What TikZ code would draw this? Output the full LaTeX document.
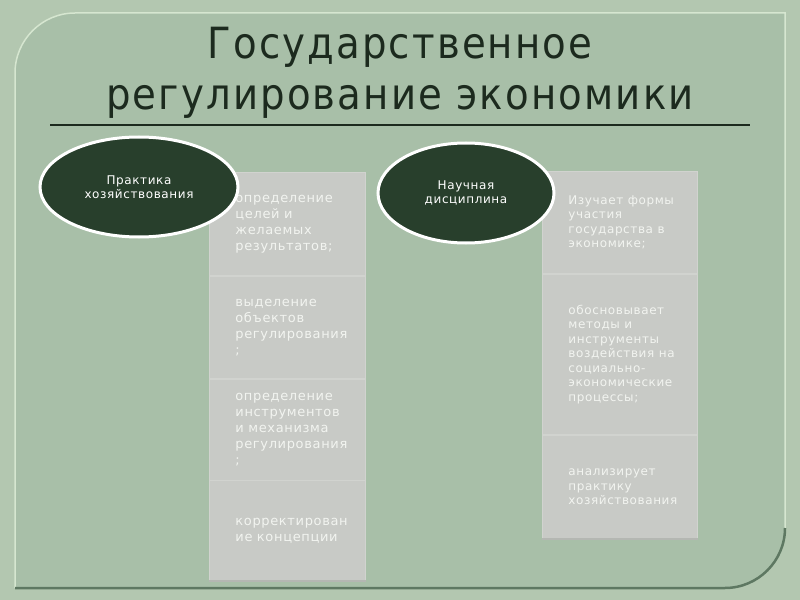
\documentclass[tikz,border=0pt]{standalone}
\usepackage{fontspec}
\setmainfont{DejaVu Sans}
\newfontfamily\titlefont{DejaVu Sans Condensed}[LetterSpace=5]
\newfontfamily\spacedfont{DejaVu Sans}[LetterSpace=5]
\usetikzlibrary{positioning,shapes.geometric}

\definecolor{outergreen}{HTML}{B3C7B0}
\definecolor{panelgreen}{HTML}{A8BFA8}
\definecolor{panelrim}{HTML}{D6E6D0}
\definecolor{panelshade}{HTML}{5E7862}
\definecolor{titleink}{HTML}{1C2A1E}
\definecolor{ovalgreen}{HTML}{283F2C}
\definecolor{cellgray}{HTML}{C8CAC6}
\definecolor{cellline}{HTML}{D1D3CF}
\definecolor{cellshade}{HTML}{B4B7B2}
\definecolor{cellink}{HTML}{F2F4F0}

\tikzset{
  oval/.style={ellipse, draw=white, line width=3bp, fill=ovalgreen, text=white,
    minimum width=198bp, minimum height=100bp, inner sep=0pt, align=center,
    font=\spacedfont\fontsize{12bp}{14.5bp}\selectfont},
  cell/.style={rectangle, fill=cellgray, draw=cellline, line width=0.8bp,
    inner sep=0pt, text=cellink, align=flush left,
    execute at begin node={\spaceskip=4.5bp plus 0bp minus 0bp\relax}},
  practcell/.style={cell, minimum width=156bp, text width=104bp,
    font=\spacedfont\fontsize{13bp}{16bp}\selectfont},
  scicell/.style={cell, minimum width=155bp, text width=103bp,
    font=\spacedfont\fontsize{12bp}{14.5bp}\selectfont}
}

\begin{document}
\begin{tikzpicture}[x=1bp, y=-1bp]
    \useasboundingbox (0,0) rectangle (800,600);
    \fill[outergreen] (0,0) rectangle (800,600);

    % panel with two rounded corners
    \fill[panelgreen] (15,588) -- (15,73) .. controls (15,40) and (42,13) .. (75,13)
        -- (785,13) -- (785,528) .. controls (785,561) and (758,588) .. (725,588) -- cycle;
    \draw[panelrim, line width=1.5bp] (15,588) -- (15,73) .. controls (15,40) and (42,13) .. (75,13)
        -- (785,13) -- (785,528);
    \draw[panelshade, line width=2.5bp] (785,528) .. controls (785,561) and (758,588) .. (725,588) -- (15,588);

    \node[text=titleink, align=center, font=\titlefont\fontsize{43bp}{50.5bp}\selectfont] (title) at (400,73)
        {Государственное\\регулирование экономики};
    \coordinate (ruleL) at (50,125);
    \coordinate (ruleR) at (750,125);
    \draw[titleink, line width=2bp] (ruleL) -- (ruleR);

    % left column
    \node[practcell, minimum height=103bp, anchor=north west] (goals) at (209,172)
        {определение\\целей~и\\желаемых\\результатов;};
    \node[practcell, minimum height=102bp, below=0pt of goals] (objects)
        {выделение\\объектов\\регулирования\\;};
    \node[practcell, minimum height=101bp, below=0pt of objects] (tools)
        {определение\\инструментов\\и~механизма\\регулирования\\;};
    \node[practcell, minimum height=100bp, below=0pt of tools] (concept)
        {корректирован\\ие~концепции};
    \draw[cellshade, line width=2bp] (concept.south west) -- (concept.south east);

    % right column
    \node[scicell, minimum height=102bp, anchor=north west] (forms) at (542,171)
        {Изучает~формы\\участия\\государства~в\\экономике;};
    \node[scicell, minimum height=160bp, below=0pt of forms] (methods)
        {обосновывает\\методы~и\\инструменты\\воздействия~на\\социально-\\экономические\\процессы;};
    \node[scicell, minimum height=104bp, below=0pt of methods] (analysis)
        {анализирует\\практику\\хозяйствования};
    \draw[cellshade, line width=2bp] (analysis.south west) -- (analysis.south east);

    \node[oval] (practice) at (139,187) {Практика\\хозяйствования};
    \node[oval, minimum width=176bp] (science) at (466,193) {Научная\\дисциплина};
\end{tikzpicture}
\end{document}
